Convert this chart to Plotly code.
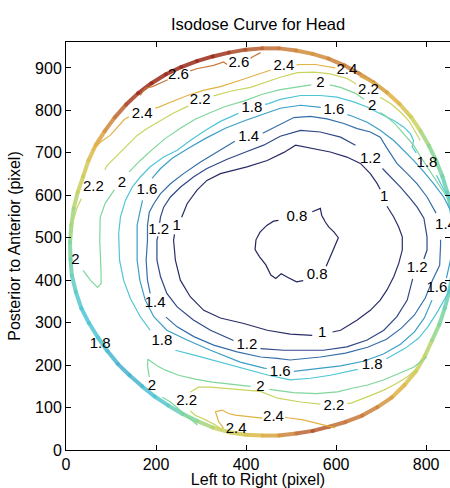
import plotly.graph_objects as go

N = None

# ---- isodose curves (x = left->right pixel, y = posterior->anterior pixel); None = break at a label
iso_0_8 = [(547,561),(565,569),(568,553),(576,537),(584,525),(595,514),(605,500),(597,480),(590,462),(584,445),(578,433), N,
           (527,399),(512,396),(492,407),(478,415),(466,404),(455,412),(444,436),(430,455),(420,472),(422,495),(431,513),(446,529),(461,539),(472,541)]

iso_1_0 = [(257,548),(262,562),(269,580),(291,612),(313,635),(343,651),(372,659),(402,667),(447,682),(484,701),(510,718),(550,710),(587,702),(624,690),(654,675),(676,651),(691,628),(698,614), N,
           (713,574),(728,549),(739,525),(747,502),(747,471),(739,439),(728,408),(713,377),(698,353),(676,329),(647,306),(610,282),(592,278), N,
           (547,270),(521,271),(498,273),(447,282),(395,298),(343,311),(306,329),(276,361),(254,400),(243,447),(239,494),(241,508)]

iso_1_2 = [(208,535),(210,549),(217,572),(232,596),(254,619),(283,643),(313,663),(358,685),(402,703),(439,718),(476,739),(521,753),(565,749),(610,737),(643,718), N,
           (703,663),(721,643),(743,619),(765,592),(780,572),(795,546),(802,502),(802,471),(795,450), N,
           (770,403),(758,353),(735,314),(706,282),(669,259),(624,243),(572,235),(521,235),(484,235),(432,239), N,
           (372,258),(358,265),(321,282),(283,306),(247,337),(224,369),(210,408),(202,447),(202,494),(204,503)]

iso_1_4 = [(187,369),(181,400),(178,447),(181,494),(181,529),(185,560),(195,580),(210,604),(232,627),(261,651),(298,678),(335,701),(375,727), N,
           (437,746),(476,767),(506,783),(543,786),(580,780),(617,769),(647,757),(676,749),(698,737),(713,711),(735,675),(758,651),(780,627),(802,596),(818,565),(822,558), N,
           (832,495),(832,482),(830,435),(814,400),(798,358),(774,318),(745,287),(712,261),(670,242),(621,228),(565,219),(498,212),(469,216),(432,219),(380,231),(328,247),(284,267),(247,290),(222,313)]

iso_1_6 = [(191,640),(210,663),(236,687),(272,711),(310,734),(354,758),(398,776),(436,791),(476,805),(521,812),(566,807), N,
           (625,790),(632,788),(669,772),(698,753),(728,729),(750,706),(772,682),(795,655),(817,627),(839,596),(854,565),(858,506),(854,447),(845,405), N,
           (813,353),(796,311),(774,278),(743,249),(705,226),(661,209),(610,198),(554,191),(506,185), N,
           (446,192),(440,193),(387,207),(321,235),(269,259),(224,282),(195,314),(176,353),(164,400),(158,447),(158,494),(158,529),(165,565),(170,588)]

iso_1_8 = [(187,282),(165,314),(143,357),(128,400),(119,447),(117,494),(117,510),(121,549),(132,588),(147,619),(165,643),(187,667),(217,690),(247,706),(276,729),(310,753),(343,774),(383,793), N,
           (442,814),(450,816),(476,826),(521,835),(565,835),(602,831),(639,820),(669,808),(698,792),(728,776),(750,761),(765,745),(772,729),(769,714),(778,700), N,
           (823,647),(838,616),(854,588),(867,541),(872,471),(865,412),(850,372),(827,329),(805,292),(783,263),(754,240),(712,215), N,
           (648,190),(632,186),(587,176),(543,169),(498,165),(450,176),(398,191),(347,207),(287,223),(243,235)]

iso_2_0 = [(38,423),(54,400),(70,383),(78,392),(78,416),(76,454),(75,494),(76,548),(87,581),(105,609),(108,613), N,
           (140,655),(165,682),(192,708),(221,734),(254,758),(287,779),(321,795),(354,809),(398,823),(436,838),(476,849),(521,856),(545,860), N,
           (586,860),(610,854),(643,840),(662,826), N,
           (698,795),(709,788),(732,767),(754,741),(772,718),(787,692),(805,663),(823,635),(841,607),(854,583), N,
           (292,59),(274,75),(254,94),(232,113),(214,124), N,
           (185,172),(181,198),(182,214),(192,207),(203,198),(221,188),(250,176),(287,167),(325,160),(365,155),(410,150), N,
           (452,143),(463,141),(505,135),(556,133),(603,137),(638,146),(670,153),(705,165),(743,181),(772,195),(801,219)]

iso_2_2 = [(10,500),(14,534),(25,572),(34,592), N,
           (86,660),(92,671),(114,694),(136,718),(158,741),(181,758),(210,776),(238,793),(265,807),(272,810), N,
           (328,834),(332,835),(365,845),(410,854),(443,866),(476,878),(514,889),(552,890),(587,886),(624,875),(645,862), N,
           (698,831),(721,816),(743,796),(761,776),(774,753),(787,729), N,
           (347,47),(332,59),(310,71),(287,82),(276,92), N,
           (276,136),(294,148),(321,148),(361,145),(398,141),(432,138),(470,122),(521,113),(565,108), N,
           (625,110),(632,110),(669,125),(706,141),(735,157),(758,172),(778,190)]

iso_2_4 = [(58,706),(76,725),(98,741),(116,762),(130,779),(140,785), N,
           (198,805),(205,807),(232,819),(270,835),(305,847),(343,856),(387,871),(436,889),(455,895), N,
           (512,907),(521,908),(554,908),(587,903),(598,900), N,
           (652,880),(658,877),(685,863), N,
           (598,52),(561,61),(527,71),(492,76),(487,77), N,
           (436,75),(406,78),(376,82),(361,86),(347,94),(332,90),(339,67),(350,51)]

iso_2_6 = [(165,835),(176,852),(192,856),(214,866),(226,872), N,
           (276,893),(290,898),(328,906),(350,914),(358,908), N,
           (410,922),(413,925),(432,936)]

levels = [0.8, 1.0, 1.2, 1.4, 1.6, 1.8, 2.0, 2.2, 2.4, 2.6, 2.8]
curves = [iso_0_8, iso_1_0, iso_1_2, iso_1_4, iso_1_6, iso_1_8, iso_2_0, iso_2_2, iso_2_4, iso_2_6]

# ---- head boundary (dense high-dose rim), read point by point, with dose
edge_x = [864,861,855,847,836,822,806,787,766,741,713,683,651,618,583,548,511,473,
          436,399,362,326,291,256,222,190,160,133,108,86,66,50,38,26,17,12,
          9,10,13,22,34,51,71,92,115,141,169,197,227,259,292,326,362,399,
          436,473,511,548,585,621,658,692,724,752,777,797,813,829,841,851,858,862]
edge_y = [490,530,569,607,645,682,717,752,785,815,842,866,887,906,922,933,941,946,
          946,943,936,927,916,902,885,864,840,813,783,751,718,682,644,607,569,530,
          490,450,411,372,334,299,265,233,203,176,150,126,105,85,68,53,42,36,
          34,34,39,45,55,66,81,101,124,153,185,221,258,295,333,372,411,450]
edge_dose = [1.8,1.8,1.85,1.9,1.95,2.0,2.05,2.15,2.25,2.35,2.45,2.5,2.55,2.6,2.55,2.5,2.55,2.6,
             2.65,2.7,2.75,2.8,2.8,2.8,2.8,2.8,2.8,2.7,2.6,2.5,2.4,2.3,2.25,2.2,2.1,2.05,
             2.0,1.95,1.9,1.85,1.8,1.8,1.8,1.75,1.7,1.7,1.75,1.8,1.85,1.95,2.05,2.15,2.25,2.3,
             2.4,2.5,2.6,2.7,2.65,2.6,2.6,2.55,2.45,2.35,2.25,2.2,2.1,2.0,1.95,1.9,1.85,1.8]

# ---- contour labels
label_text = ["0.8","0.8","1","1","1","1.2","1.2","1.2","1.2","1.4","1.4","1.4",
              "1.6","1.6","1.6","1.6","1.8","1.8","1.8","1.8","1.8",
              "2","2","2","2","2","2","2.2","2.2","2.2","2.2","2.2",
              "2.4","2.4","2.4","2.4","2.4","2.6","2.6"]
label_x = [513,558,246,707,569,206,676,780,402,406,198,843,
           180,595,824,476,413,802,213,680,76,
           124,565,680,21,432,191,61,298,672,268,595,
           169,484,624,461,378,250,384]
label_y = [548,411,526,595,275,518,686,428,247,737,345,529,
           612,800,381,184,804,675,255,200,250,
           628,863,809,447,148,149,619,824,847,114,102,
           792,904,894,78,49,882,910]

# ---- styling
palette = ["#24275c","#292d66","#2f4886","#356ea8","#3c9ec6","#4fc6d6",
           "#7fd69a","#c9d460","#e2b243","#c8793a","#9a2a1a"]

def hex2rgb(h):
    h = h.lstrip("#")
    return tuple(int(h[i:i+2], 16) for i in (0, 2, 4))

def dose_color(v):
    if v <= levels[0]:
        return palette[0]
    for i in range(len(levels) - 1):
        a, b = levels[i], levels[i+1]
        if a <= v <= b:
            t = (v - a) / (b - a)
            c1, c2 = hex2rgb(palette[i]), hex2rgb(palette[i+1])
            c = [round(c1[k] + (c2[k] - c1[k]) * t) for k in range(3)]
            return "rgb(%d,%d,%d)" % tuple(c)
    return palette[-1]

FONT = "Arial, Liberation Sans, Helvetica, sans-serif"

fig = go.Figure()

# rim: coloured segments plus round joints
n = len(edge_x)
for i in range(n):
    j = (i + 1) % n
    fig.add_trace(go.Scatter(
        x=[edge_x[i], edge_x[j]], y=[edge_y[i], edge_y[j]], mode="lines",
        line=dict(color=dose_color((edge_dose[i] + edge_dose[j]) / 2), width=4),
        opacity=0.85, hoverinfo="skip", showlegend=False))
fig.add_trace(go.Scatter(
    x=edge_x, y=edge_y, mode="markers",
    marker=dict(size=4, color=[dose_color(v) for v in edge_dose], line=dict(width=0)),
    opacity=0.85, hoverinfo="skip", showlegend=False))

# isodose lines
for lev, pts, col in zip(levels, curves, palette):
    xs = [p[0] if p is not None else None for p in pts]
    ys = [p[1] if p is not None else None for p in pts]
    fig.add_trace(go.Scatter(x=xs, y=ys, mode="lines", connectgaps=False,
                             line=dict(color=col, width=1.2), name=str(lev),
                             hoverinfo="skip", showlegend=False))

# labels
fig.add_trace(go.Scatter(x=label_x, y=label_y, text=label_text, mode="text",
                         textposition="middle center",
                         textfont=dict(family=FONT, size=15, color="black"),
                         cliponaxis=False, hoverinfo="skip", showlegend=False))

axis_common = dict(ticks="inside", ticklen=5, tickcolor="black", tickwidth=1,
                   showline=True, linecolor="black", linewidth=1, mirror="ticks",
                   showgrid=False, zeroline=False, automargin=False,
                   tickfont=dict(family=FONT, size=16, color="black"))

fig.update_xaxes(range=[0, 853], tickvals=[0, 200, 400, 600, 800],
                 title=dict(text="Left to Right (pixel)", font=dict(family=FONT, size=16, color="black"), standoff=5),
                 **axis_common)
fig.update_yaxes(range=[0, 961], tickvals=[0, 100, 200, 300, 400, 500, 600, 700, 800, 900],
                 title=dict(text="Posterior to Anterior (pixel)", font=dict(family=FONT, size=16, color="black"), standoff=10),
                 **axis_common)

fig.update_layout(
    width=450, height=488,
    margin=dict(l=66, r=0, t=42, b=38, autoexpand=False),
    paper_bgcolor="white", plot_bgcolor="white",
    title=dict(text="Isodose Curve for Head", x=0.5735, xanchor="center", y=0.951, yanchor="middle",
               font=dict(family=FONT, size=16.5, color="black")),
    showlegend=False,
)

fig.write_html("out.html", config={"displayModeBar": False},
               post_script="document.body.style.margin='0px';")
